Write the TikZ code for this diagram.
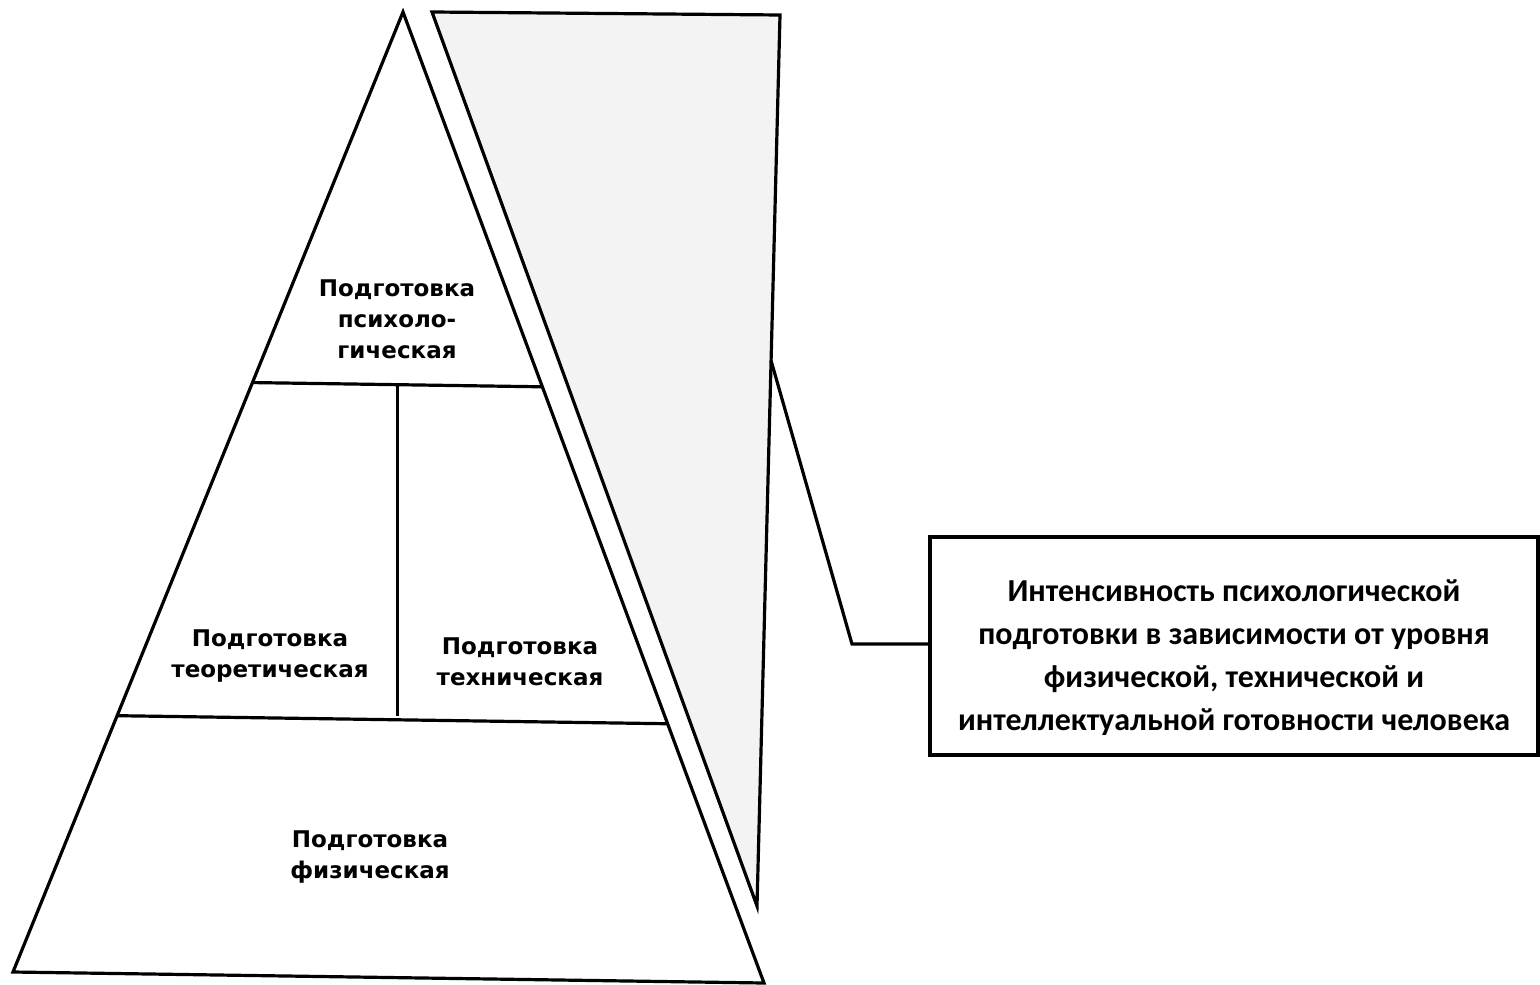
\documentclass[tikz,border=0pt]{standalone}
\usepackage{fontspec}
\setmainfont{DejaVu Sans}
\newfontfamily\infofont{Carlito}
\usetikzlibrary{calc, positioning}
\definecolor{greyfill}{HTML}{F3F3F3}
\tikzset{
  edge/.style = {line width=1.6pt, line join=miter},
  tier/.style = {align=center, font=\bfseries\fontsize{11.5}{15.5}\selectfont},
  info/.style = {draw, line width=1.6pt, fill=white, minimum width=304pt, minimum height=109pt, align=center,
                 font=\infofont\bfseries\fontsize{16}{21.5}\selectfont}
}

\begin{document}
\begin{tikzpicture}[x=0.5pt, y=-0.5pt]
  \useasboundingbox (0,0) rectangle (1540,984);

  % Pyramide
  \coordinate (apex) at (403,12);
  \coordinate (bl) at (13,972);
  \coordinate (br) at (764,983);
  \coordinate (tl) at ($(apex)!0.386!(bl)$);
  \coordinate (tr) at ($(apex)!0.386!(br)$);
  \coordinate (ml) at ($(apex)!0.733!(bl)$);
  \coordinate (mr) at ($(apex)!0.733!(br)$);
  \coordinate (tm) at ($(tl)!0.5!(tr)$);

  \draw[edge] (apex) -- (bl) -- (br) -- cycle;
  \draw[edge] (tl) -- (tr);
  \draw[edge] (ml) -- (mr);
  \draw[edge] (tm) -- (tm |- ml);

  \node[tier] (psy) at (397,319) {Подготовка\\психоло-\\гическая};
  \node[tier] (theo) at (270,656) {Подготовка\\теоретическая};
  \node[tier] (tech) at (520,662) {Подготовка\\техническая};
  \node[tier] (phys) at (370,857) {Подготовка\\физическая};

  % Keil (Intensität)
  \coordinate (gtl) at (432,12);
  \coordinate (gtr) at (780,15);
  \coordinate (gb) at (757,906);
  \filldraw[edge, fill=greyfill] (gtl) -- (gtr) -- (gb) -- cycle;

  % Erklärung
  \node[info] (info) at (1234,646) {\rule{0pt}{23pt}Интенсивность психологической\\подготовки в зависимости от уровня\\физической, технической и\\интеллектуальной готовности человека};

  \coordinate (lead) at ($(gtr)!0.388!(gb)$);
  \coordinate (knee) at (852,644);
  \draw[edge] (lead) -- (knee) -- (knee -| info.west);
\end{tikzpicture}
\end{document}
